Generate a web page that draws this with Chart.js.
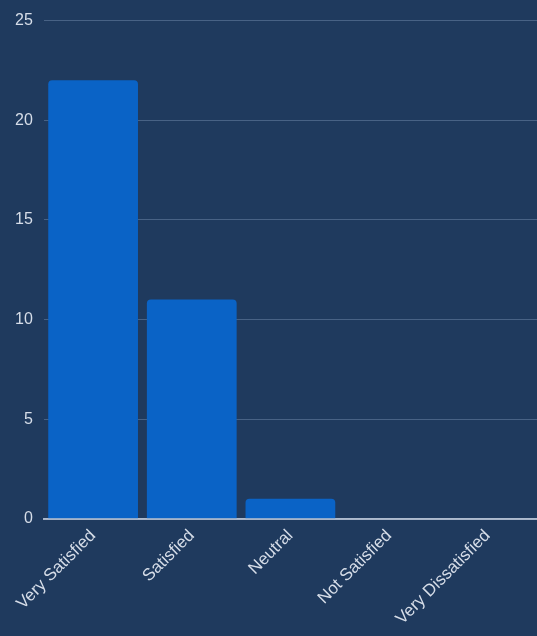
<!DOCTYPE html>
<html>
<head>
<meta charset="utf-8">
<script src="https://cdn.jsdelivr.net/npm/chart.js@4"></script>
<style>
  html, body { margin: 0; padding: 0; background: #1f3a5e; }
  #wrap { width: 537px; height: 636px; }
</style>
</head>
<body>
<div id="wrap"><canvas id="myChart"></canvas></div>
<script>
const categories = ['Very Satisfied', 'Satisfied', 'Neutral', 'Not Satisfied', 'Very Dissatisfied'];
const responses = [22, 11, 1, 0, 0];
const yTicks = [0, 5, 10, 15, 20, 25];

Chart.defaults.font.family = '"Liberation Sans", Arial, sans-serif';

const ctx = document.getElementById('myChart').getContext('2d');
const myChart = new Chart(ctx, {
    type: 'bar',
    data: {
        labels: categories,
        datasets: [{
            label: 'Responses',
            data: responses,
            backgroundColor: '#0a63c6',
            borderRadius: 4,
            borderSkipped: 'bottom',
            barPercentage: 0.91,
            categoryPercentage: 1.0
        }]
    },
    options: {
        responsive: true,
        maintainAspectRatio: false,
        animation: false,
        layout: { padding: { top: 15, right: 0, left: 4, bottom: 0 } },
        plugins: {
            legend: { display: false },
            tooltip: { enabled: false }
        },
        scales: {
            x: {
                grid: { display: false, drawTicks: false },
                border: { color: 'rgba(200,210,225,0.8)', width: 2 },
                ticks: {
                    color: '#d6dde8',
                    font: { size: 17 },
                    maxRotation: 45,
                    minRotation: 45,
                    padding: 7
                }
            },
            y: {
                min: 0,
                max: 25,
                afterBuildTicks: axis => { axis.ticks = yTicks.map(v => ({ value: v })); },
                grid: {
                    color: 'rgba(150,175,205,0.35)',
                    drawTicks: false
                },
                border: { display: false },
                ticks: {
                    color: '#d6dde8',
                    font: { size: 16 },
                    padding: 11
                }
            }
        }
    }
});
</script>
</body>
</html>
